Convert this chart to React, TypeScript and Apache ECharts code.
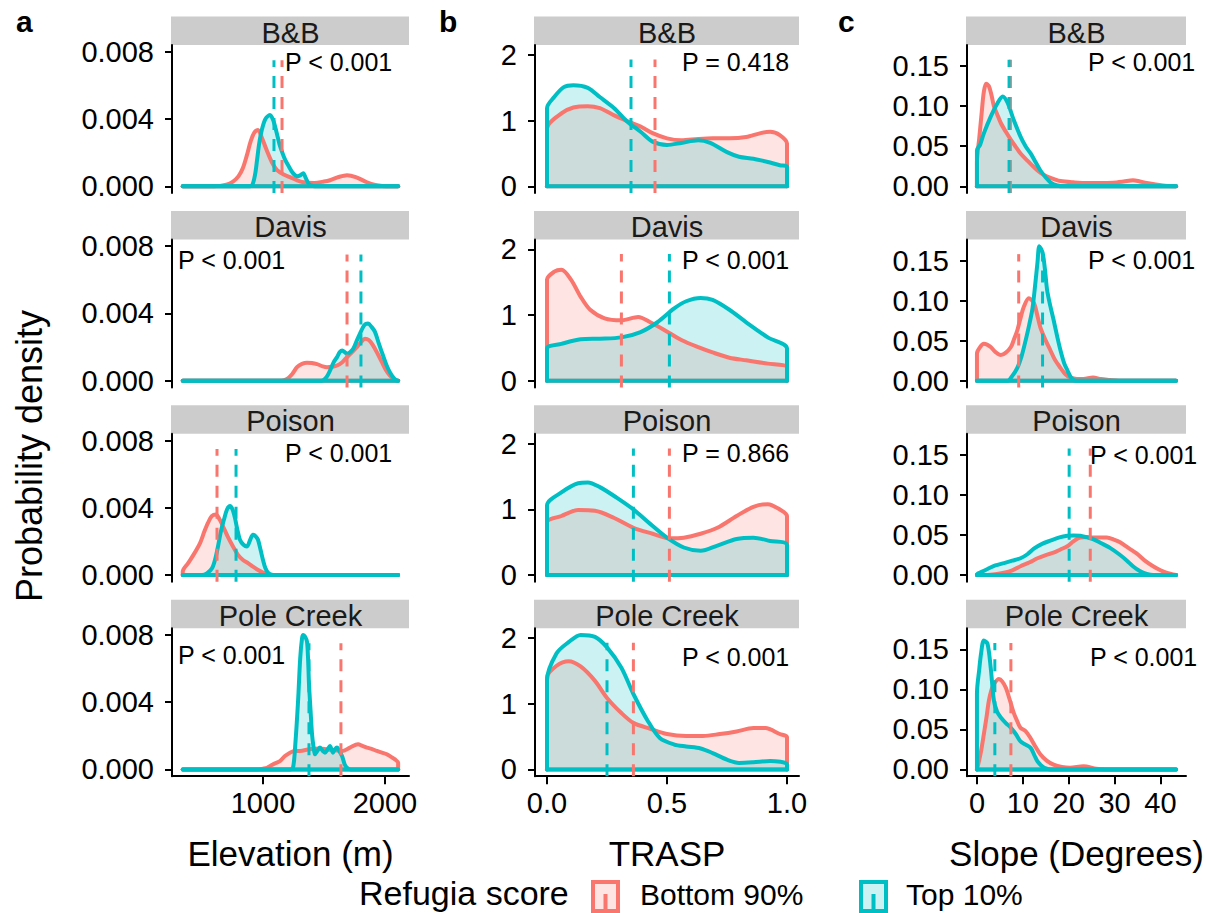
import React, { useEffect, useRef } from "react";
import * as echarts from "echarts";

type Pt = [number, number];

const FONT = "'Liberation Sans', Arial, Helvetica, sans-serif";
const RED = "#F8766D";
const TEAL = "#00BFC4";
const RED_FILL = "rgba(248,118,109,0.2)";
const TEAL_FILL = "rgba(0,191,196,0.2)";

const sites = ["B&B", "Davis", "Poison", "Pole Creek"];
const groups = ["Bottom 90%", "Top 10%"];
const legendTitle = "Refugia score";
const yTitle = "Probability density";

// ---------------- Elevation (m) ----------------
const elevXTicks = [1000, 2000];
const elevYTicks = [0, 0.004, 0.008];
const elevBBBottom: Pt[] = [[342,0],[600,0],[700,0.0001],[754,0.00028],[800,0.0006],[836,0.0011],[870,0.0019],[900,0.0027],[930,0.0032],[959,0.00335],[990,0.0029],[1033,0.0021],[1075,0.0014],[1115,0.00096],[1170,0.0007],[1221,0.00054],[1280,0.00035],[1330,0.00024],[1420,0.0002],[1500,0.00028],[1549,0.00036],[1620,0.00055],[1689,0.00066],[1760,0.00055],[1852,0.00024],[1920,0.00008],[1980,0.00002],[2108,0]];
const elevBBTop: Pt[] = [[342,0],[880,0],[910,0.00005],[935,0.0007],[951,0.00155],[970,0.0026],[992,0.0034],[1020,0.004],[1057,0.00424],[1085,0.0039],[1115,0.0031],[1135,0.0025],[1156,0.00205],[1180,0.0016],[1210,0.0012],[1246,0.00078],[1280,0.0006],[1305,0.00065],[1330,0.00078],[1350,0.0005],[1375,0.00015],[1410,0.00002],[1450,0],[2108,0]];
const elevDavisBottom: Pt[] = [[342,0],[1150,0],[1197,0.0001],[1240,0.0004],[1279,0.0008],[1320,0.001],[1361,0.00107],[1400,0.00105],[1443,0.00098],[1490,0.00085],[1525,0.0008],[1570,0.00083],[1607,0.0009],[1650,0.0011],[1689,0.0014],[1730,0.0017],[1770,0.002],[1805,0.0023],[1836,0.0025],[1870,0.0024],[1902,0.0021],[1940,0.0016],[1975,0.0011],[2010,0.0006],[2041,0.0003],[2080,0.00005],[2108,0]];
const elevDavisTop: Pt[] = [[342,0],[1480,0],[1520,0.0002],[1549,0.0006],[1580,0.0011],[1607,0.0014],[1630,0.0017],[1650,0.0018],[1670,0.0017],[1689,0.0016],[1715,0.0017],[1740,0.0019],[1770,0.0024],[1795,0.0028],[1830,0.0033],[1861,0.0034],[1890,0.0032],[1918,0.0029],[1950,0.0022],[1984,0.0015],[2020,0.0008],[2057,0.0003],[2090,0.00003],[2108,0]];
const elevPoisonBottom: Pt[] = [[342,0.0002],[385,0.0007],[430,0.0012],[484,0.0019],[520,0.0026],[549,0.0031],[580,0.0035],[615,0.0036],[645,0.0033],[672,0.0029],[710,0.0023],[754,0.0017],[795,0.0012],[836,0.0009],[880,0.0007],[918,0.0005],[960,0.0003],[1000,0.00015],[1050,0.00002],[1100,0],[2108,0]];
const elevPoisonTop: Pt[] = [[342,0],[500,0],[540,0.0001],[582,0.0004],[610,0.001],[631,0.0017],[655,0.0026],[680,0.0033],[705,0.0039],[730,0.0041],[750,0.0039],[770,0.0034],[790,0.0027],[811,0.0021],[840,0.0018],[869,0.0017],[895,0.0021],[918,0.0024],[940,0.0023],[959,0.0021],[980,0.0015],[1000,0.0009],[1020,0.0004],[1041,0.00015],[1070,0.00002],[1100,0],[2108,0]];
const elevPoleBottom: Pt[] = [[342,0],[950,0],[1000,0.00005],[1033,0.0001],[1080,0.0003],[1139,0.0005],[1180,0.0008],[1221,0.001],[1260,0.0011],[1303,0.0011],[1380,0.0012],[1467,0.00124],[1520,0.0012],[1574,0.00115],[1648,0.0011],[1713,0.0013],[1779,0.0015],[1815,0.0014],[1852,0.0013],[1900,0.0012],[1934,0.0011],[1975,0.001],[2016,0.0009],[2050,0.00075],[2082,0.0006],[2108,0.0004]];
const elevPoleTop: Pt[] = [[342,0],[1220,0],[1246,0.0001],[1265,0.0015],[1287,0.004],[1305,0.0066],[1320,0.0078],[1330,0.008],[1345,0.0079],[1361,0.0076],[1370,0.0065],[1377,0.0051],[1390,0.0035],[1402,0.0021],[1415,0.0013],[1426,0.0009],[1445,0.0011],[1467,0.0013],[1490,0.0011],[1508,0.001],[1530,0.0012],[1549,0.0014],[1562,0.0012],[1574,0.001],[1590,0.0012],[1607,0.0013],[1625,0.0011],[1648,0.0008],[1670,0.0003],[1689,0.0001],[1720,0],[2108,0]];
const elevMeanBottom = [1156, 1689, 623, 1639];
const elevMeanTop = [1090, 1803, 779, 1377];
const elevP = ["P < 0.001", "P < 0.001", "P < 0.001", "P < 0.001"];

// ---------------- TRASP ----------------
const traspXTicks = [0, 0.5, 1];
const traspYTicks = [0, 1, 2];
const traspBBBottom: Pt[] = [[0,0.88],[0.06,1.11],[0.11,1.2],[0.17,1.22],[0.22,1.19],[0.28,1.08],[0.33,1.0],[0.39,0.91],[0.44,0.81],[0.5,0.73],[0.56,0.7],[0.63,0.72],[0.69,0.73],[0.76,0.73],[0.83,0.75],[0.89,0.81],[0.93,0.83],[0.97,0.78],[1.0,0.65]];
const traspBBTop: Pt[] = [[0,1.19],[0.03,1.36],[0.07,1.51],[0.11,1.54],[0.17,1.5],[0.22,1.36],[0.28,1.19],[0.33,1.0],[0.39,0.83],[0.44,0.68],[0.5,0.63],[0.56,0.66],[0.63,0.7],[0.68,0.66],[0.75,0.52],[0.8,0.45],[0.86,0.42],[0.92,0.37],[0.97,0.32],[1.0,0.3]];
const traspDavisBottom: Pt[] = [[0,1.54],[0.03,1.66],[0.06,1.69],[0.1,1.54],[0.14,1.28],[0.18,1.08],[0.24,0.95],[0.31,0.92],[0.38,0.97],[0.43,0.89],[0.49,0.77],[0.56,0.62],[0.63,0.51],[0.69,0.43],[0.76,0.35],[0.83,0.31],[0.92,0.26],[1.0,0.2]];
const traspDavisTop: Pt[] = [[0,0.49],[0.06,0.56],[0.14,0.63],[0.22,0.64],[0.31,0.66],[0.39,0.74],[0.46,0.89],[0.53,1.1],[0.58,1.21],[0.64,1.26],[0.69,1.23],[0.76,1.08],[0.83,0.89],[0.92,0.66],[1.0,0.49]];
const traspPoisonBottom: Pt[] = [[0,0.8],[0.06,0.9],[0.13,0.99],[0.2,0.98],[0.28,0.87],[0.36,0.72],[0.44,0.63],[0.51,0.56],[0.57,0.57],[0.64,0.63],[0.71,0.72],[0.79,0.9],[0.86,1.04],[0.92,1.08],[0.97,1.0],[1.0,0.9]];
const traspPoisonTop: Pt[] = [[0,1.06],[0.06,1.26],[0.13,1.4],[0.17,1.41],[0.22,1.34],[0.29,1.18],[0.36,1.0],[0.43,0.78],[0.5,0.57],[0.57,0.42],[0.64,0.37],[0.71,0.45],[0.79,0.55],[0.86,0.57],[0.93,0.52],[1.0,0.46]];
const traspPoleBottom: Pt[] = [[0,1.4],[0.04,1.58],[0.09,1.65],[0.14,1.57],[0.2,1.35],[0.25,1.09],[0.31,0.86],[0.36,0.71],[0.43,0.62],[0.5,0.54],[0.58,0.51],[0.65,0.51],[0.72,0.54],[0.79,0.58],[0.86,0.63],[0.91,0.63],[0.97,0.54],[1.0,0.49]];
const traspPoleTop: Pt[] = [[0,1.36],[0.04,1.77],[0.09,1.94],[0.14,2.05],[0.2,2.02],[0.25,1.86],[0.31,1.55],[0.36,1.15],[0.42,0.74],[0.47,0.48],[0.53,0.38],[0.58,0.35],[0.64,0.32],[0.69,0.25],[0.75,0.15],[0.8,0.1],[0.86,0.11],[0.93,0.13],[1.0,0.08]];
const traspMeanBottom = [0.45, 0.31, 0.51, 0.36];
const traspMeanTop = [0.35, 0.51, 0.36, 0.25];
const traspP = ["P = 0.418", "P < 0.001", "P = 0.866", "P < 0.001"];

// ---------------- Slope (Degrees) ----------------
const slopeXTicks = [0, 10, 20, 30, 40];
const slopeYTicks = [0, 0.05, 0.1, 0.15];
const slopeBBBottom: Pt[] = [[0,0.03],[0.5,0.06],[1,0.09],[1.5,0.118],[2,0.128],[2.6,0.125],[3.2,0.113],[3.7,0.1],[4.4,0.09],[5.2,0.079],[6.3,0.068],[7.4,0.058],[8.5,0.049],[9.5,0.041],[11,0.032],[12.4,0.024],[13.8,0.017],[15.3,0.012],[16.8,0.009],[18.2,0.0066],[21,0.005],[24,0.004],[27,0.004],[29.7,0.0045],[32,0.006],[34,0.0076],[35.5,0.006],[37,0.004],[40.5,0.001],[43.4,0]];
const slopeBBTop: Pt[] = [[0,0.045],[0.7,0.052],[1.5,0.066],[3,0.087],[4.5,0.104],[5.6,0.112],[6.7,0.104],[8,0.083],[9.5,0.062],[10.6,0.05],[11.7,0.041],[12.8,0.03],[13.8,0.02],[15,0.011],[16,0.005],[17.5,0.001],[19,0],[43.4,0]];
const slopeDavisBottom: Pt[] = [[0,0.034],[0.7,0.042],[1.5,0.046],[2.2,0.045],[3,0.042],[4,0.036],[5.2,0.032],[6.3,0.035],[7.4,0.042],[8.1,0.052],[8.8,0.063],[9.5,0.078],[10.2,0.092],[11.3,0.103],[12.4,0.097],[13.1,0.083],[13.8,0.067],[15,0.05],[16,0.038],[17,0.026],[18.2,0.016],[19.3,0.008],[20.3,0.004],[21.8,0.002],[23.2,0.002],[25.3,0.004],[27,0.002],[29,0.001],[31,0],[43.4,0]];
const slopeDavisTop: Pt[] = [[0,0],[6.7,0],[7.7,0.006],[8.8,0.016],[9.7,0.03],[10.6,0.05],[11.4,0.07],[12.1,0.09],[12.7,0.12],[13.2,0.148],[13.6,0.168],[14.3,0.16],[14.8,0.14],[15.3,0.113],[16,0.093],[16.7,0.076],[17.5,0.055],[18.2,0.038],[19,0.022],[19.7,0.013],[20.5,0.004],[21.5,0],[43.4,0]];
const slopePoisonBottom: Pt[] = [[0,0],[2.3,0],[4,0.001],[5.9,0.003],[7.7,0.006],[9.5,0.011],[11.5,0.016],[13.2,0.021],[15,0.025],[16.7,0.028],[18.2,0.032],[19.7,0.036],[21,0.042],[22.5,0.047],[24,0.0475],[25.3,0.047],[27,0.047],[28.3,0.047],[30,0.044],[31.2,0.041],[33,0.034],[34.8,0.027],[36.6,0.018],[38.4,0.011],[40,0.006],[41.3,0.003],[43.4,0]];
const slopePoisonTop: Pt[] = [[0,0.001],[1,0.004],[2.3,0.0076],[4,0.012],[5.9,0.015],[7.7,0.018],[9.5,0.021],[11,0.026],[12.4,0.033],[14.2,0.039],[16,0.043],[18,0.047],[19.7,0.049],[21,0.0495],[22.5,0.049],[24,0.047],[25.3,0.045],[27,0.04],[29,0.034],[31,0.026],[32.7,0.018],[34,0.011],[35.5,0.005],[37,0.0015],[38.4,0],[43.4,0]];
const slopePoleBottom: Pt[] = [[0,0],[0.8,0.02],[1.5,0.044],[2.1,0.066],[2.6,0.086],[3.2,0.1],[3.7,0.107],[4.8,0.113],[5.5,0.11],[6.3,0.102],[7.1,0.088],[8,0.071],[8.8,0.06],[9.5,0.052],[10.6,0.048],[11.7,0.039],[12.8,0.028],[13.8,0.019],[15.2,0.011],[16.7,0.006],[18.5,0.003],[20.3,0.002],[23.2,0.004],[26,0.001],[28,0],[43.4,0]];
const slopePoleTop: Pt[] = [[0,0.095],[0.5,0.125],[0.9,0.145],[1.5,0.161],[2.3,0.157],[3,0.127],[3.7,0.086],[4.4,0.072],[5.2,0.065],[6.3,0.058],[7.4,0.052],[8.5,0.044],[9.5,0.035],[10.6,0.031],[11.7,0.027],[12.5,0.018],[13.2,0.01],[14,0.005],[14.7,0.002],[16,0],[43.4,0]];
const slopeMeanBottom = [7.3, 9.1, 24.7, 7.4];
const slopeMeanTop = [7.0, 14.3, 20.1, 3.9];
const slopeP = ["P < 0.001", "P < 0.001", "P < 0.001", "P < 0.001"];

// ---------------- layout ----------------
const ROW_TOPS = [45, 239.4, 433.8, 628.2];
const GRID_H = 148;
const STRIP_H = 28.5;
const CURVE_W = 4;

const columns = [
  {
    letter: "a", letterX: 16, title: "Elevation (m)",
    left: 172, width: 237, xMin: 254, xMax: 2197, yMin: -0.0004, yMax: 0.0084, vTop: 0.0075,
    xTicks: elevXTicks, yTicks: elevYTicks,
    xFmt: (v: number) => String(v), yFmt: (v: number) => v.toFixed(3),
    bottom: [elevBBBottom, elevDavisBottom, elevPoisonBottom, elevPoleBottom],
    top: [elevBBTop, elevDavisTop, elevPoisonTop, elevPoleTop],
    meanBottom: elevMeanBottom, meanTop: elevMeanTop, p: elevP,
    pPos: [[285, 62], [178, 260], [285, 453], [178, 655]],
  },
  {
    letter: "b", letterX: 439, title: "TRASP",
    left: 535, width: 264, xMin: -0.05, xMax: 1.05, yMin: -0.1025, yMax: 2.1525, vTop: 1.93,
    xTicks: traspXTicks, yTicks: traspYTicks,
    xFmt: (v: number) => v.toFixed(1), yFmt: (v: number) => String(v),
    bottom: [traspBBBottom, traspDavisBottom, traspPoisonBottom, traspPoleBottom],
    top: [traspBBTop, traspDavisTop, traspPoisonTop, traspPoleTop],
    meanBottom: traspMeanBottom, meanTop: traspMeanTop, p: traspP,
    pPos: [[682, 62], [682, 260], [682, 453], [682, 657]],
  },
  {
    letter: "c", letterX: 838, title: "Slope (Degrees)",
    left: 967, width: 219, xMin: -2.17, xMax: 45.57, yMin: -0.0084, yMax: 0.1764, vTop: 0.158,
    xTicks: slopeXTicks, yTicks: slopeYTicks,
    xFmt: (v: number) => String(v), yFmt: (v: number) => v.toFixed(2),
    bottom: [slopeBBBottom, slopeDavisBottom, slopePoisonBottom, slopePoleBottom],
    top: [slopeBBTop, slopeDavisTop, slopePoisonTop, slopePoleTop],
    meanBottom: slopeMeanBottom, meanTop: slopeMeanTop, p: slopeP,
    pPos: [[1088, 62], [1088, 260], [1090, 455], [1090, 657]],
  },
];

function buildOption() {
  const grid: any[] = [];
  const xAxis: any[] = [];
  const yAxis: any[] = [];
  const series: any[] = [];
  const graphic: any[] = [];
  const axisCol = { color: "#000", width: 2 };

  columns.forEach((col, c) => {
    for (let r = 0; r < 4; r++) {
      const k = c * 4 + r;
      const top = ROW_TOPS[r];
      grid.push({ left: col.left, top, width: col.width, height: GRID_H, outerBoundsMode: "none" });
      xAxis.push({
        type: "value", gridIndex: k, min: col.xMin, max: col.xMax, show: r === 3,
        axisLine: { show: true, onZero: false, lineStyle: axisCol },
        axisTick: { show: true, length: 8, lineStyle: axisCol, customValues: col.xTicks },
        axisLabel: { customValues: col.xTicks, formatter: col.xFmt, fontSize: 29, color: "#000", margin: 12, fontFamily: FONT },
        splitLine: { show: false },
      });
      yAxis.push({
        type: "value", gridIndex: k, min: col.yMin, max: col.yMax,
        axisLine: { show: true, onZero: false, lineStyle: axisCol },
        axisTick: { show: true, length: 7, lineStyle: axisCol, customValues: col.yTicks },
        axisLabel: { customValues: col.yTicks, formatter: col.yFmt, fontSize: 29, color: "#000", margin: 18, fontFamily: FONT },
        splitLine: { show: false },
      });

      const curves: [Pt[], string, string][] = [
        [col.bottom[r], RED, RED_FILL],
        [col.top[r], TEAL, TEAL_FILL],
      ];
      curves.forEach(([curve, color, fill], g) => {
        const x0 = curve[0][0];
        const x1 = curve[curve.length - 1][0];
        const poly: Pt[] = [[x0, 0], ...curve, [x1, 0]];
        series.push({
          type: "line", name: groups[g], xAxisIndex: k, yAxisIndex: k, data: poly,
          smooth: 0.3, symbol: "none", showSymbol: false, silent: true,
          lineStyle: { color, width: CURVE_W, cap: "round", join: "round" },
          areaStyle: { color: fill, opacity: 1, origin: "auto" },
        });
        series.push({
          type: "line", xAxisIndex: k, yAxisIndex: k, data: [[x0, 0], [x1, 0]],
          symbol: "none", showSymbol: false, silent: true,
          lineStyle: { color, width: CURVE_W, cap: "round" },
        });
      });
      const means: [number, string][] = [
        [col.meanBottom[r], RED],
        [col.meanTop[r], TEAL],
      ];
      means.forEach(([m, color]) => {
        series.push({
          type: "line", xAxisIndex: k, yAxisIndex: k,
          data: [[m, col.yMin], [m, col.vTop]],
          symbol: "none", showSymbol: false, silent: true,
          lineStyle: { color, width: 3, type: [12, 9], cap: "butt" },
        });
      });

      // strip
      graphic.push({
        type: "rect", silent: true,
        shape: { x: col.left - 1, y: top - STRIP_H, width: col.width + 1, height: STRIP_H },
        style: { fill: "#CCCCCC" },
      });
      graphic.push({
        type: "text", silent: true, x: col.left + col.width / 2, y: top - 12.5,
        style: { text: sites[r], fontSize: 29, fontFamily: FONT, fill: "#1a1a1a", align: "center", verticalAlign: "middle" },
      });
      // p value
      graphic.push({
        type: "text", silent: true, x: col.pPos[r][0], y: col.pPos[r][1],
        style: { text: col.p[r], fontSize: 25, fontFamily: FONT, fill: "#000", align: "left", verticalAlign: "middle" },
      });
    }
    // column letter
    graphic.push({
      type: "text", silent: true, x: col.letterX, y: 21,
      style: { text: col.letter, fontSize: 30, fontWeight: "bold", fontFamily: FONT, fill: "#000", align: "left", verticalAlign: "middle" },
    });
    // x title
    graphic.push({
      type: "text", silent: true, x: col.left + col.width / 2, y: 853,
      style: { text: col.title, fontSize: 35, fontFamily: FONT, fill: "#000", align: "center", verticalAlign: "middle" },
    });
  });

  // y title
  graphic.push({
    type: "text", silent: true, x: 29, y: 456, rotation: Math.PI / 2,
    style: { text: yTitle, fontSize: 36, fontFamily: FONT, fill: "#000", align: "center", verticalAlign: "middle" },
  });

  // legend
  graphic.push({
    type: "text", silent: true, x: 359, y: 893,
    style: { text: legendTitle, fontSize: 34, fontFamily: FONT, fill: "#000", align: "left", verticalAlign: "middle" },
  });
  const keys: [number, number, string, string][] = [
    [591, 640, RED, RED_FILL],
    [859, 906, TEAL, TEAL_FILL],
  ];
  keys.forEach(([kx, tx, color, fill], g) => {
    graphic.push({
      type: "rect", silent: true,
      shape: { x: kx + 2, y: 882, width: 25, height: 29 },
      style: { fill, stroke: color, lineWidth: 4 },
    });
    graphic.push({
      type: "line", silent: true,
      shape: { x1: kx + 14.5, y1: 894, x2: kx + 14.5, y2: 913 },
      style: { stroke: color, lineWidth: 4 },
    });
    graphic.push({
      type: "text", silent: true, x: tx, y: 894,
      style: { text: groups[g], fontSize: 30, fontFamily: FONT, fill: "#000", align: "left", verticalAlign: "middle" },
    });
  });

  return {
    animation: false,
    backgroundColor: "#fff",
    textStyle: { fontFamily: FONT },
    grid, xAxis, yAxis, series, graphic,
  };
}

export default function App() {
  const ref = useRef<HTMLDivElement>(null);
  useEffect(() => {
    document.body.style.margin = "0";
    const chart = echarts.init(ref.current!, null, { renderer: "svg" });
    chart.setOption(buildOption() as any);
    return () => chart.dispose();
  }, []);
  return <div ref={ref} style={{ width: 1207, height: 913 }} />;
}
